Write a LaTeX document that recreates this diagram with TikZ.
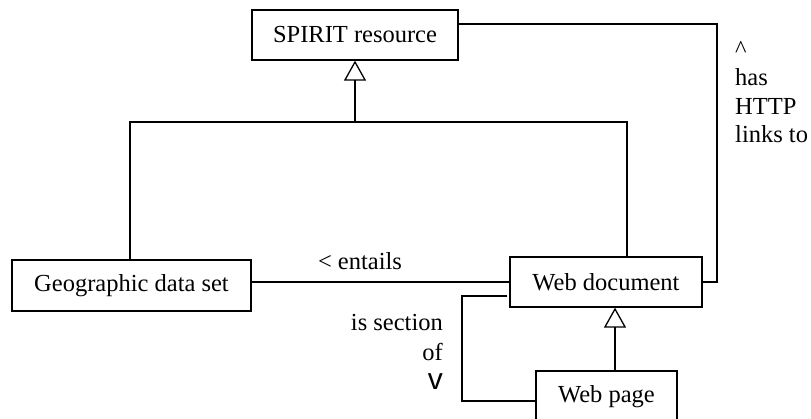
\documentclass[tikz,border=0pt]{standalone}
\usepackage{fontspec}
\setmainfont{Liberation Serif}
\newfontfamily\sansv{Liberation Sans}
\usetikzlibrary{arrows.meta}
\begin{document}
\begin{tikzpicture}[x=1pt,y=-1pt,
  cls/.style={draw,line width=1.3pt,inner sep=0pt,font=\fontsize{24.5}{28}\selectfont},
  conn/.style={line width=1.3pt},
  gen/.style={conn,-{Triangle[open,length=20pt,width=22pt,line width=1.3pt]}},
  lbl/.style={inner sep=0pt,font=\fontsize{24.5}{28.5}\selectfont}]
\useasboundingbox (0,0) rectangle (811,419);
\clip (0,0) rectangle (811,419);
\node[cls,minimum width=206pt,minimum height=50pt] (spirit) at (355,35) {SPIRIT resource};
\node[cls,minimum width=239pt,minimum height=51pt] (geo) at (131.5,285.5) {Geographic data set};
\node[cls,minimum width=192pt,minimum height=50pt] (webdoc) at (606,282) {Web document};
\node[cls,minimum width=141pt,minimum height=54pt,text depth=0pt] (webpage) at (606.5,398) {};
\node[lbl] (wptext) at (606.5,397) {Web page};
\coordinate (bus) at (355,122);
\coordinate (hr) at (717,150);
\coordinate (sl) at (462,350);
% generalization
\draw[conn] ([xshift=-1.5pt]geo.north) |- (bus) -| ([xshift=21pt]webdoc.north);
\draw[gen] (bus) -- (spirit.south);
\draw[gen] ([xshift=8.5pt]webpage.north) -- ([xshift=9pt]webdoc.south);
% associations
\draw[conn] ([yshift=11pt]spirit.east) -| (hr) |- (webdoc.east);
\draw[conn] (webdoc.west) -- (webdoc.west -| geo.east);
\draw[conn] ([xshift=-2pt,yshift=-14pt]webdoc.west) -| (sl) |- ([yshift=-3pt]webpage.west);
% labels
\node[lbl] (entails) at (360,261) {< entails};
\node[lbl,align=right,anchor=east,font=\fontsize{24.5}{29.5}\selectfont] (issection) at (443,352) {is section\\of\\{\sansv\fontsize{30}{29.5}\selectfont v}};
\node[lbl,align=left,anchor=west] (links) at (735,92) {\^{}\\has\\HTTP\\links to};
\end{tikzpicture}
\end{document}
